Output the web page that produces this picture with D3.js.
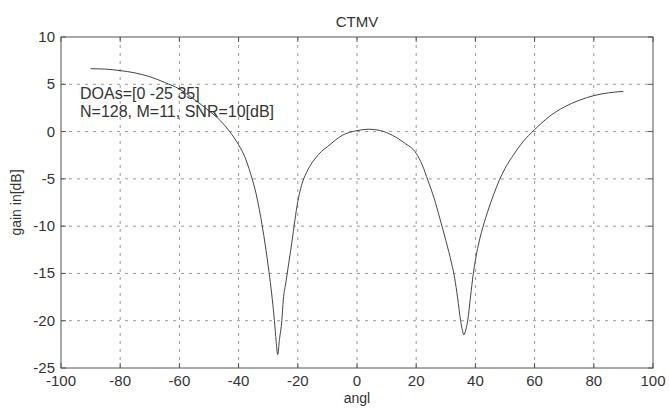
<!DOCTYPE html>
<html lang="en">

<head>
    <script src="https://d3js.org/d3.v7.min.js"></script>
    <style>
        body {
            margin: 0;
            background: white;
        }

        text {
            font-family: "Liberation Sans", Arial, sans-serif;
            fill: #333;
        }

        .grid line {
            stroke: #999;
            stroke-dasharray: 3, 5;
        }
    </style>
</head>

<body>
    <svg id="chart" width="669" height="410"></svg>

    <script>
        // values
        const angles = [-90, -85, -80, -75, -70, -65, -60, -55, -50, -46, -43, -40, -38, -36, -34, -32, -30, -29.5, -28.6, -27.9, -27.3, -26.8,
            -26.2, -25.4, -24.9, -24, -23, -22, -21, -20, -19, -18, -17, -16, -14, -12, -10, -5, 0, 4, 8, 12, 16, 20, 22, 24, 26, 28, 30, 32, 33, 34, 35, 35.6, 36.1,
            36.8, 37.4, 38.3, 39.3, 40, 41, 42, 43, 44, 46, 48, 50, 53, 56, 60, 65, 70, 75, 80, 85, 90];
        const gains = [6.65, 6.6, 6.45, 6.2, 5.8, 5.2, 4.5, 3.4, 2.2, 1.1, 0.0, -1.4, -2.6, -4.4, -6.7, -10, -14.2, -15.4, -17.8, -20, -22.2, -23.6,
            -22.0, -20, -17.8, -15.9, -13.8, -11.7, -9.4, -7.4, -6.0, -5.0, -4.3, -3.7, -2.8, -2.1, -1.6, -0.4, 0.1, 0.25, 0.1, -0.4, -1.2, -2.3, -3.5, -5.2, -7.0, -9.2, -11.5, -14.0, -15.5, -17.6, -20, -21.0, -21.5,
            -20.9, -20, -17.6, -15, -13.6, -12.0, -10.7, -9.6, -8.6, -6.8, -5.2, -3.9, -2.4, -1.1, 0.2, 1.6, 2.6, 3.3, 3.8, 4.1, 4.25];

        const xTicks = [-100, -80, -60, -40, -20, 0, 20, 40, 60, 80, 100];
        const yTicks = [-25, -20, -15, -10, -5, 0, 5, 10];
        const notes = ["DOAs=[0 -25 35]", "N=128, M=11, SNR=10[dB]"];

        const svg = d3.select("svg#chart");
        const margins = { top: 37, right: 16, bottom: 42, left: 61 };
        const width = +svg.attr("width");
        const height = +svg.attr("height");
        const plotW = width - margins.left - margins.right;
        const plotH = height - margins.top - margins.bottom;

        const x = d3.scaleLinear().domain([-100, 100]).range([0, plotW]);
        const y = d3.scaleLinear().domain([-25, 10]).range([plotH, 0]);

        const g = svg.append("g")
            .attr("transform", `translate(${margins.left},${margins.top})`);

        // dotted grid
        g.append("g").attr("class", "grid")
            .selectAll("line.v")
            .data(xTicks.slice(1, -1))
            .join("line")
            .attr("x1", d => x(d)).attr("x2", d => x(d))
            .attr("y1", 0).attr("y2", plotH);

        g.append("g").attr("class", "grid")
            .selectAll("line.h")
            .data(yTicks.slice(1, -1))
            .join("line")
            .attr("x1", 0).attr("x2", plotW)
            .attr("y1", d => y(d)).attr("y2", d => y(d));

        // inward ticks on all four sides, like matlab
        const tickLen = 5;
        const tk = g.append("g").attr("stroke", "#555").attr("stroke-width", 1);
        xTicks.forEach(t => {
            tk.append("line").attr("x1", x(t)).attr("x2", x(t)).attr("y1", plotH).attr("y2", plotH - tickLen);
            tk.append("line").attr("x1", x(t)).attr("x2", x(t)).attr("y1", 0).attr("y2", tickLen);
        });
        yTicks.forEach(t => {
            tk.append("line").attr("x1", 0).attr("x2", tickLen).attr("y1", y(t)).attr("y2", y(t));
            tk.append("line").attr("x1", plotW).attr("x2", plotW - tickLen).attr("y1", y(t)).attr("y2", y(t));
        });

        // frame
        g.append("rect")
            .attr("width", plotW)
            .attr("height", plotH)
            .attr("fill", "none")
            .attr("stroke", "#555")
            .attr("stroke-width", 1);

        // tick labels
        g.selectAll("text.xt")
            .data(xTicks)
            .join("text")
            .attr("class", "xt")
            .attr("x", d => x(d))
            .attr("y", plotH + 18)
            .attr("text-anchor", "middle")
            .attr("font-size", 15)
            .text(d => d);

        g.selectAll("text.yt")
            .data(yTicks)
            .join("text")
            .attr("class", "yt")
            .attr("x", -6)
            .attr("y", d => y(d) + 5)
            .attr("text-anchor", "end")
            .attr("font-size", 15)
            .text(d => d);

        // the beam pattern curve
        const line = d3.line()
            .x((d, i) => x(angles[i]))
            .y(d => y(d))
            .curve(d3.curveMonotoneX);

        g.append("path")
            .datum(gains)
            .attr("fill", "none")
            .attr("stroke", "#444")
            .attr("stroke-width", 1)
            .attr("d", line);

        // annotation text
        g.selectAll("text.note")
            .data(notes)
            .join("text")
            .attr("class", "note")
            .attr("x", 19)
            .attr("y", (d, i) => 62 + i * 18)
            .attr("font-size", 16)
            .text(d => d);

        // title and axis labels
        svg.append("text")
            .attr("x", margins.left + plotW / 2)
            .attr("y", 27)
            .attr("text-anchor", "middle")
            .attr("font-size", 15)
            .text("CTMV");

        svg.append("text")
            .attr("x", margins.left + plotW / 2)
            .attr("y", 403)
            .attr("text-anchor", "middle")
            .attr("font-size", 14)
            .text("angl");

        svg.append("text")
            .attr("transform", `translate(21,${margins.top + plotH / 2}) rotate(-90)`)
            .attr("text-anchor", "middle")
            .attr("font-size", 14)
            .text("gain in[dB]");
    </script>
</body>

</html>
